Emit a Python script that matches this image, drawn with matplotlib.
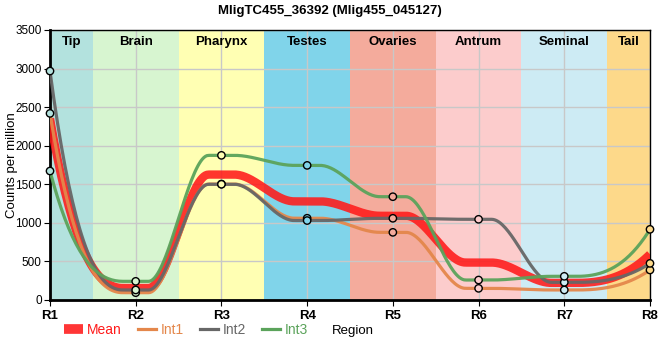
import numpy as np
import matplotlib
matplotlib.use("Agg")
import matplotlib.pyplot as plt
from matplotlib.lines import Line2D

plt.rcParams["font.family"] = ["Liberation Sans", "DejaVu Sans"]

# Data
regions = ["R1", "R2", "R3", "R4", "R5", "R6", "R7", "R8"]
tissues = ["Tip", "Brain", "Pharynx", "Testes", "Ovaries", "Antrum", "Seminal", "Tail"]
tissue_colors = ["#b3e2de", "#d7f5d0", "#ffffb3", "#80d4ea", "#f4ab9c", "#fccccc", "#cdebf4", "#fdd98a"]
int1 = [2419, 95, 1503, 1060, 877, 151, 130, 389]
int2 = [2968, 130, 1500, 1030, 1059, 1046, 229, 475]
int3 = [1672, 242, 1875, 1745, 1339, 259, 307, 916]
mean = np.mean([int1, int2, int3], axis=0)

series_colors = {"Int1": "#e4874b", "Int2": "#676767", "Int3": "#5ba35b"}
mean_color = "#ff1a1a"


def smooth(vals, a=0.15, n=40):
    # flat around each region, cubic hermite between them
    xs, ys = [], []
    last = len(vals) - 1
    for i, v in enumerate(vals):
        x = i + 1
        if i == 0 or i == last:
            xs.append(x); ys.append(v)
        else:
            xs += [x - a, x + a]; ys += [v, v]
    xs = np.array(xs, float); ys = np.array(ys, float)
    ms = np.zeros(len(xs))
    ms[0] = 2.5 * (ys[1] - ys[0]) / (xs[1] - xs[0])
    ms[-1] = 2.5 * (ys[-1] - ys[-2]) / (xs[-1] - xs[-2])
    px, py = [], []
    for k in range(len(xs) - 1):
        h = xs[k + 1] - xs[k]
        t = np.linspace(0, 1, n)
        h00 = 2 * t**3 - 3 * t**2 + 1
        h10 = t**3 - 2 * t**2 + t
        h01 = -2 * t**3 + 3 * t**2
        h11 = t**3 - t**2
        px.append(xs[k] + t * h)
        py.append(h00 * ys[k] + h10 * h * ms[k] + h01 * ys[k + 1] + h11 * h * ms[k + 1])
    return np.concatenate(px), np.concatenate(py)


fig = plt.figure(figsize=(6.6, 3.6), dpi=100)
ax = fig.add_axes([50 / 660, 1 - 300 / 360, 600 / 660, 270 / 360])

x = np.arange(1, len(regions) + 1)
edges = [1] + [i + 0.5 for i in range(1, len(regions))] + [len(regions)]
for i, c in enumerate(tissue_colors):
    ax.axvspan(edges[i], edges[i + 1], color=c, lw=0, zorder=0)
    ax.text((edges[i] + edges[i + 1]) / 2, 0.955, tissues[i], transform=ax.get_xaxis_transform(),
            ha="center", va="center", fontsize=9.5, fontweight="bold", zorder=5)

ax.grid(True, color="#c8c8c8", lw=1, zorder=1)
ax.set_axisbelow(True)

mx, my = smooth(mean)
ax.plot(mx, my, color=mean_color, lw=6, alpha=0.88, solid_capstyle="butt", zorder=3)
for name, vals in [("Int1", int1), ("Int2", int2), ("Int3", int3)]:
    sx, sy = smooth(vals)
    ax.plot(sx, sy, color=series_colors[name], lw=2.3, alpha=0.95, zorder=4)
    ax.scatter(x, vals, s=28, facecolors=tissue_colors, edgecolors="black", linewidths=1, zorder=6, clip_on=False)

ax.set_xlim(1, 8)
ax.set_ylim(0, 3500)
ax.set_yticks(np.arange(0, 3501, 500))
ax.set_xticks(x)
ax.set_xticklabels(regions, fontweight="bold", fontsize=9.5)
ax.tick_params(axis="y", labelsize=8.5, length=4, pad=2)
ax.tick_params(axis="x", length=4, pad=3)
for s in ["left", "bottom"]:
    ax.spines[s].set_linewidth(2)
for s in ["top", "right"]:
    ax.spines[s].set_linewidth(1)
ax.set_ylabel("Counts per million", fontsize=9.5)
ax.yaxis.set_label_coords(-0.054, 0.5)

fig.suptitle("MligTC455_36392 (Mlig455_045127)", fontsize=9.5, fontweight="bold", y=0.985)

handles = [Line2D([], [], color=mean_color, lw=7, alpha=0.88, solid_capstyle="butt")]
handles += [Line2D([], [], color=series_colors[k], lw=2.3) for k in ["Int1", "Int2", "Int3"]]
leg = fig.legend(handles, ["Mean", "Int1", "Int2", "Int3"], ncol=4, loc="center left",
                 bbox_to_anchor=(52 / 660, 1 - 330 / 360), frameon=False, fontsize=10,
                 handlelength=1.3, handletextpad=0.3, columnspacing=1.2)
for txt, c in zip(leg.get_texts(), [mean_color] + [series_colors[k] for k in ["Int1", "Int2", "Int3"]]):
    txt.set_color(c)
fig.text(332 / 660, 1 - 331 / 360, "Region", fontsize=9.5, va="center", ha="left")

fig.savefig("out.png", dpi=100)
